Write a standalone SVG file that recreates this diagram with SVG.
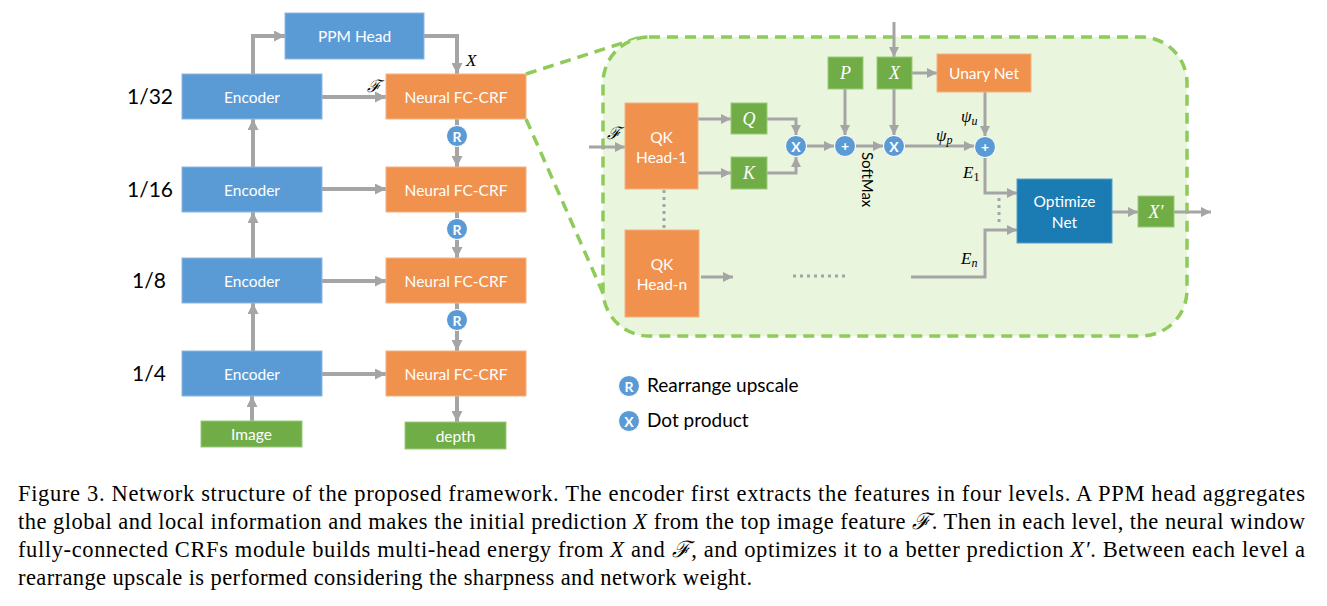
<svg xmlns="http://www.w3.org/2000/svg" width="1327" height="606" viewBox="0 0 1327 606">
<defs>
<marker id="ah" viewBox="0 0 10 10" refX="10" refY="5" markerWidth="11" markerHeight="11" markerUnits="userSpaceOnUse" orient="auto"><path d="M0,0 L10,5 L0,10 z" fill="#A5A5A5"/></marker>
<marker id="ahs" viewBox="0 0 10 10" refX="10" refY="5" markerWidth="10" markerHeight="10" markerUnits="userSpaceOnUse" orient="auto"><path d="M0,0 L10,5 L0,10 z" fill="#A5A5A5"/></marker>
</defs>
<style>
.blue{fill:#5B9BD5;stroke:#8EB8E0;stroke-width:1}
.orange{fill:#F0914D;stroke:#F3B283;stroke-width:1}
.green{fill:#70AD47;stroke:#9CC97C;stroke-width:1}
.opt{fill:#1B7BB3;stroke:#5C9FC9;stroke-width:1}
.t{font-family:Lato,"Open Sans","Liberation Sans",sans-serif;font-size:15.5px;fill:#fff;text-anchor:middle;dominant-baseline:central}
.lvl{font-family:Lato,"Open Sans","Liberation Sans",sans-serif;font-size:21px;fill:#000}
.m{font-family:"Liberation Serif","DejaVu Serif",serif;font-style:italic;font-size:17px;fill:#000}
.mw{font-family:"Liberation Serif","DejaVu Serif",serif;font-style:italic;font-size:18px;fill:#fff;text-anchor:middle;dominant-baseline:central}
.c{fill:#5B9BD5;stroke:#fff;stroke-width:1}
.ct{font-family:Lato,"Open Sans","Liberation Sans",sans-serif;font-size:14px;font-weight:bold;fill:#fff;text-anchor:middle;dominant-baseline:central}
.w{fill:none;stroke:#A5A5A5;stroke-width:4;marker-end:url(#ah)}
.ws{fill:none;stroke:#A5A5A5;stroke-width:3;marker-end:url(#ahs)}
.dot{fill:none;stroke:#A5A5A5;stroke-width:3;stroke-dasharray:3 4}
.leg{font-family:Lato,"Open Sans","Liberation Sans",sans-serif;font-size:19px;fill:#000}
.cap{font-family:"Liberation Serif","Times New Roman",serif;font-size:22.5px;fill:#000}
.ci{font-style:italic}
</style>

<g id="zoom-lines">
<line x1="526" y1="74" x2="638" y2="38" stroke="#8FCB5A" stroke-width="3.5" stroke-dasharray="11 7"/>
<line x1="526" y1="119" x2="614" y2="318" stroke="#8FCB5A" stroke-width="3.5" stroke-dasharray="11 7"/>
</g>
<g id="panel">
<rect x="603" y="37" width="584" height="299" rx="46" ry="46" fill="#E9F5DC" stroke="#8FCB5A" stroke-width="3.5" stroke-dasharray="11 7"/>
</g>

<g id="connectors">
<path class="w" d="M253,74 V36 H285"/>
<path class="w" d="M424,36 H457 V74"/>
<path class="w" d="M322,97 H386"/>
<path class="w" d="M457,119 V167"/>
<path class="w" d="M253,167 V119"/>
<path class="w" d="M322,189 H386"/>
<path class="w" d="M457,212 V258"/>
<path class="w" d="M253,258 V212"/>
<path class="w" d="M322,281 H386"/>
<path class="w" d="M457,303 V351"/>
<path class="w" d="M253,351 V303"/>
<path class="w" d="M322,374 H386"/>
<path class="w" d="M252,421 V396"/>
<path class="w" d="M457,396 V422"/>

<path class="ws" d="M589,147 H625"/>
<path class="ws" d="M698,119 H731"/>
<path class="ws" d="M698,173 H731"/>
<path class="ws" d="M767,119 H796 V135"/>
<path class="ws" d="M767,173 H796 V157"/>
<path class="ws" d="M807,146 H834"/>
<path class="ws" d="M845,89 V135"/>
<path class="ws" d="M856,146 H883"/>
<path class="ws" d="M894,22 V57"/>
<path class="ws" d="M912,73 H937"/>
<path class="ws" d="M894,89 V135"/>
<path class="ws" d="M905,146 H974"/>
<path class="ws" d="M985,92 V136"/>
<path class="ws" d="M985,158 V193 H1017"/>
<path class="ws" d="M911,277 H985 V230 H1017"/>
<path class="ws" d="M1112,212 H1138"/>
<path class="ws" d="M1174,212 H1211"/>
<path class="ws" d="M701,277 H733"/>
<path class="dot" d="M664,190 V229"/>
<path class="dot" d="M793,276 H848"/>
<path class="dot" d="M999,198 V223"/>
</g>

<g id="ppm"><rect class="blue" x="285" y="13" width="139" height="46"/><text class="t" x="354.5" y="36">PPM Head</text></g>
<g id="enc32"><rect class="blue" x="182" y="74" width="140" height="45"/><text class="t" x="252" y="96.5">Encoder</text></g>
<g id="enc16"><rect class="blue" x="182" y="167" width="140" height="45"/><text class="t" x="252" y="189.5">Encoder</text></g>
<g id="enc8"><rect class="blue" x="182" y="258" width="140" height="45"/><text class="t" x="252" y="280.5">Encoder</text></g>
<g id="enc4"><rect class="blue" x="182" y="351" width="140" height="45"/><text class="t" x="252" y="373.5">Encoder</text></g>
<g id="crf32"><rect class="orange" x="386" y="74" width="140" height="45"/><text class="t" x="456" y="96.5">Neural FC-CRF</text></g>
<g id="crf16"><rect class="orange" x="386" y="167" width="140" height="45"/><text class="t" x="456" y="189.5">Neural FC-CRF</text></g>
<g id="crf8"><rect class="orange" x="386" y="258" width="140" height="45"/><text class="t" x="456" y="280.5">Neural FC-CRF</text></g>
<g id="crf4"><rect class="orange" x="386" y="351" width="140" height="45"/><text class="t" x="456" y="373.5">Neural FC-CRF</text></g>
<g id="image"><rect class="green" x="201" y="421" width="101" height="26"/><text class="t" x="251.5" y="434">Image</text></g>
<g id="depth"><rect class="green" x="405" y="422" width="101" height="27"/><text class="t" x="455.5" y="435.5">depth</text></g>
<g id="r1"><circle class="c" cx="457" cy="136" r="10.5"/><text class="ct" x="457" y="136">R</text></g>
<g id="r2"><circle class="c" cx="457" cy="229" r="10.5"/><text class="ct" x="457" y="229">R</text></g>
<g id="r3"><circle class="c" cx="457" cy="320" r="10.5"/><text class="ct" x="457" y="320">R</text></g>

<g id="levels">
<text class="lvl" x="127" y="104">1/32</text>
<text class="lvl" x="127" y="197">1/16</text>
<text class="lvl" x="132" y="288">1/8</text>
<text class="lvl" x="132" y="381">1/4</text>
</g>
<g id="labels-left">
<text class="m" x="466" y="66">X</text>
<text class="m" x="367" y="92">ℱ</text>
</g>

<g id="qk1"><rect class="orange" x="625" y="103" width="73" height="86"/><text class="t" x="661.5" y="137">QK</text><text class="t" x="661.5" y="157">Head-1</text></g>
<g id="qkn"><rect class="orange" x="625" y="230" width="74" height="87"/><text class="t" x="662" y="264">QK</text><text class="t" x="662" y="284">Head-n</text></g>
<g id="q"><rect class="green" x="731" y="103" width="36" height="31"/><text class="mw" x="749" y="118.5">Q</text></g>
<g id="k"><rect class="green" x="731" y="157" width="36" height="32"/><text class="mw" x="749" y="173">K</text></g>
<g id="p"><rect class="green" x="828" y="57" width="35" height="32"/><text class="mw" x="845.5" y="73">P</text></g>
<g id="xbox"><rect class="green" x="877" y="57" width="35" height="32"/><text class="mw" x="894.5" y="73">X</text></g>
<g id="unary"><rect class="orange" x="937" y="54" width="94" height="38"/><text class="t" x="984" y="73">Unary Net</text></g>
<g id="optnet"><rect class="opt" x="1017" y="179" width="95" height="64"/><text class="t" x="1064.5" y="201">Optimize</text><text class="t" x="1064.5" y="222">Net</text></g>
<g id="xprime"><rect class="green" x="1138" y="196" width="36" height="31"/><text class="mw" x="1156" y="211.5">X′</text></g>
<g id="dot1"><circle class="c" cx="796" cy="146" r="10.5"/><text class="ct" x="796" y="146">X</text></g>
<g id="plus1"><circle class="c" cx="845" cy="146" r="10.5"/><text class="ct" x="845" y="145.5" font-size="17">+</text></g>
<g id="dot2"><circle class="c" cx="894" cy="146" r="10.5"/><text class="ct" x="894" y="146">X</text></g>
<g id="plus2"><circle class="c" cx="985" cy="147" r="10.5"/><text class="ct" x="985" y="146.5" font-size="17">+</text></g>
<g id="labels-panel">
<text class="m" x="607" y="139">ℱ</text>
<text font-family="Lato,'Open Sans','Liberation Sans',sans-serif" font-size="15" fill="#000" transform="translate(862,152) rotate(90)">SoftMax</text>
<text class="m" x="961" y="122">ψ<tspan font-size="12" dy="3">u</tspan></text>
<text class="m" x="936" y="141">ψ<tspan font-size="12" dy="3">p</tspan></text>
<text class="m" x="963" y="178">E<tspan font-size="12" font-style="normal" dy="3">1</tspan></text>
<text class="m" x="961" y="264">E<tspan font-size="12" dy="3">n</tspan></text>
</g>

<g id="legend">
<circle class="c" cx="629" cy="386" r="10.5"/><text class="ct" x="629" y="386">R</text>
<text class="leg" x="647" y="392">Rearrange upscale</text>
<circle class="c" cx="629" cy="421" r="10.5"/><text class="ct" x="629" y="421">X</text>
<text class="leg" x="647" y="427">Dot product</text>
</g>

<g id="caption">
<text class="cap" x="18" y="501" textLength="1287" lengthAdjust="spacing">Figure 3. Network structure of the proposed framework. The encoder first extracts the features in four levels. A PPM head aggregates</text>
<text class="cap" x="18" y="529" textLength="1287" lengthAdjust="spacing">the global and local information and makes the initial prediction <tspan class="ci">X</tspan> from the top image feature <tspan class="ci">ℱ</tspan>. Then in each level, the neural window</text>
<text class="cap" x="18" y="557" textLength="1287" lengthAdjust="spacing">fully-connected CRFs module builds multi-head energy from <tspan class="ci">X</tspan> and <tspan class="ci">ℱ</tspan>, and optimizes it to a better prediction <tspan class="ci">X′</tspan>. Between each level a</text>
<text class="cap" x="18" y="585" textLength="734" lengthAdjust="spacing">rearrange upscale is performed considering the sharpness and network weight.</text>
</g>
</svg>
